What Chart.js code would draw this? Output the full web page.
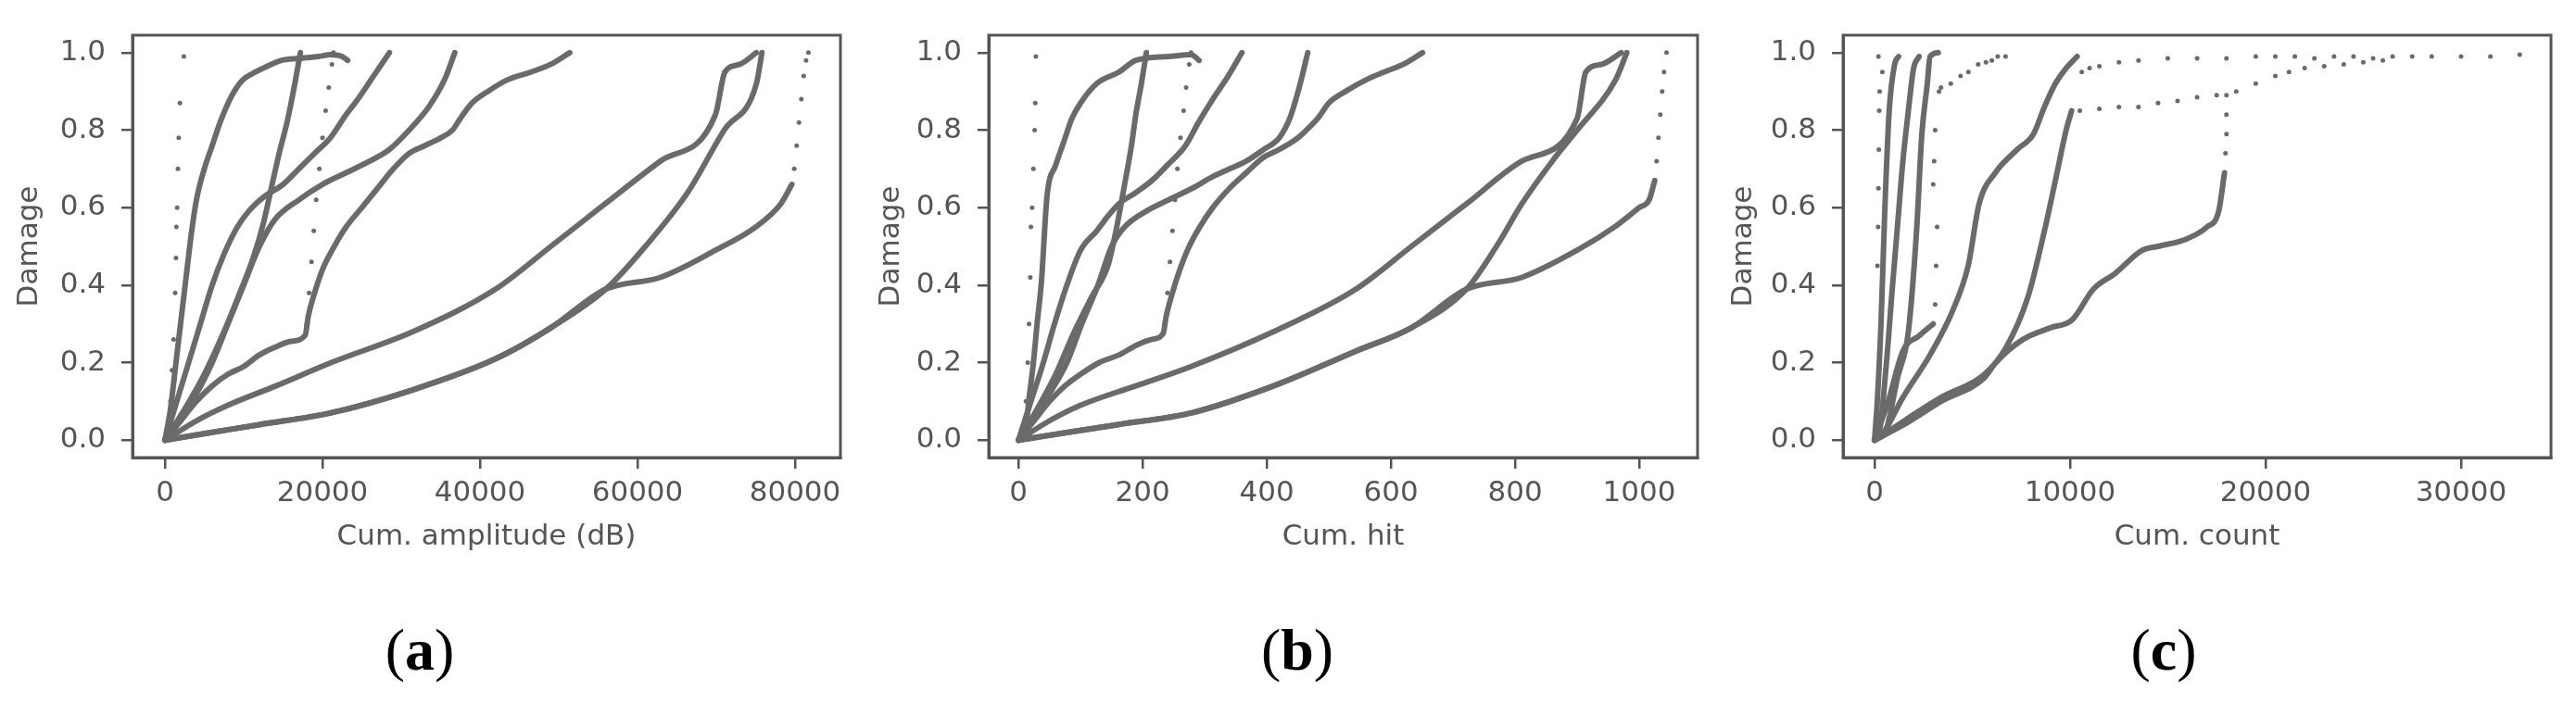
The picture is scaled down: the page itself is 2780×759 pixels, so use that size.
<!DOCTYPE html>
<html>
<head>
<meta charset="utf-8">
<script src="https://cdn.jsdelivr.net/npm/chart.js@4.4.1/dist/chart.umd.min.js"></script>
<style>
  body { margin: 0; background: #fff; width: 2780px; height: 759px; position: relative; overflow: hidden; }
  canvas { position: absolute; top: 0; }
  .tag { position: absolute; top: 702px; transform: translate(-50%, -50%); font-family: "Liberation Serif", serif; font-size: 64px; line-height: 1; color: #000; }
</style>
</head>
<body>
<canvas id="chartA" width="930" height="620" style="left:0px;width:930px;height:620px"></canvas>
<canvas id="chartB" width="920" height="620" style="left:930px;width:920px;height:620px"></canvas>
<canvas id="chartC" width="930" height="620" style="left:1850px;width:930px;height:620px"></canvas>
<div class="tag" style="left:453px">(<b>a</b>)</div>
<div class="tag" style="left:1400px">(<b>b</b>)</div>
<div class="tag" style="left:2335px">(<b>c</b>)</div>
<script>
// ================= DATA =================
// each curve is a list of [x, damage]
// ---- (a) cumulative amplitude ----
const a1dots = [[400,0.02],[700,0.1],[900,0.18],[1100,0.26],[1300,0.38],[1400,0.47],[1450,0.55],[1550,0.6],[1650,0.7],[1750,0.78],[1900,0.87],[2400,0.99]];
const a2 = [[0,0],[700,0.08],[1400,0.2],[2100,0.32],[2800,0.44],[3400,0.54],[4000,0.62],[5000,0.7],[6000,0.76],[7000,0.82],[7800,0.86],[8800,0.9],[9900,0.93],[11500,0.95],[13000,0.965],[14800,0.98],[17000,0.985],[19500,0.99],[21000,0.995],[22500,0.99],[23200,0.98]];
const a3 = [[0,0],[2500,0.08],[5000,0.17],[7500,0.28],[9500,0.38],[11200,0.47],[12500,0.56],[13500,0.65],[14500,0.74],[15500,0.82],[16400,0.91],[17200,1.0]];
const a4 = [[0,0],[2000,0.05],[4000,0.1],[6000,0.14],[8000,0.17],[10000,0.19],[12000,0.22],[14000,0.24],[16000,0.255],[17800,0.27],[18200,0.32],[19000,0.38],[20000,0.44],[21500,0.5],[23000,0.55],[25000,0.6],[27000,0.65],[29000,0.7],[31000,0.74],[33000,0.76],[35000,0.78],[36500,0.8],[37500,0.83],[39000,0.87],[41000,0.9],[43500,0.93],[46500,0.95],[49000,0.97],[51400,1.0]];
const a4dots = [[18000,0.3],[18300,0.38],[18600,0.46],[18900,0.54],[19200,0.62],[19600,0.7],[20000,0.78],[20400,0.85],[20800,0.91],[21200,0.97],[21400,1.0]];
const a5 = [[0,0],[1500,0.1],[3000,0.2],[4500,0.3],[6000,0.4],[7500,0.48],[9200,0.55],[10600,0.59],[12700,0.63],[15000,0.66],[17000,0.7],[19000,0.74],[21000,0.78],[23000,0.84],[24500,0.88],[26500,0.94],[28500,1.0]];
const a6 = [[0,0],[2000,0.06],[4000,0.12],[6000,0.2],[8000,0.3],[10000,0.4],[12000,0.5],[14000,0.57],[17000,0.62],[20000,0.66],[23000,0.69],[26000,0.72],[28500,0.75],[31000,0.8],[33500,0.86],[35500,0.93],[36800,1.0]];
const a7 = [[0,0],[4000,0.05],[8000,0.09],[14100,0.14],[21100,0.2],[31500,0.28],[42000,0.39],[49000,0.5],[55900,0.61],[62900,0.72],[69900,0.84],[71100,0.95],[73000,0.97],[75100,1.0]];
const a8 = [[0,0],[6000,0.02],[12000,0.04],[21000,0.07],[31500,0.13],[42000,0.21],[49000,0.29],[56000,0.39],[61000,0.5],[66400,0.64],[71000,0.8],[75100,0.92],[75800,1.0]];
const a9 = [[0,0],[6000,0.02],[12000,0.04],[21000,0.07],[31500,0.13],[42000,0.21],[49000,0.29],[56000,0.39],[62900,0.42],[69900,0.49],[75000,0.55],[78200,0.61],[79600,0.66]];
const a9dots = [[79900,0.7],[80200,0.76],[80500,0.82],[80800,0.88],[81100,0.94],[81400,0.98],[81700,1.0]];
const aTicks = [0, 20000, 40000, 60000, 80000];

// ---- (b) cumulative hit ----
const b1dots = [[8,0.02],[12,0.1],[15,0.2],[17,0.3],[19,0.42],[20,0.55],[22,0.6],[24,0.7],[26,0.8],[27,0.87],[28,0.99]];
const b2 = [[0,0],[11,0.03],[18,0.12],[24,0.2],[30,0.3],[37,0.41],[46,0.63],[60,0.71],[73,0.77],[86,0.83],[100,0.87],[126,0.92],[162,0.95],[189,0.98],[242,0.99],[278,0.995],[291,0.98]];
const b3 = [[0,0],[30,0.08],[60,0.17],[90,0.28],[118,0.37],[144,0.45],[157,0.54],[171,0.66],[182,0.76],[189,0.84],[198,0.92],[206,1.0]];
const b4 = [[0,0],[25,0.05],[50,0.1],[75,0.14],[100,0.17],[130,0.2],[162,0.22],[190,0.245],[215,0.26],[233,0.275],[238,0.32],[248,0.38],[260,0.44],[275,0.5],[292,0.55],[313,0.6],[340,0.65],[367,0.69],[395,0.73],[420,0.75],[450,0.78],[470,0.81],[482,0.83],[500,0.87],[527,0.9],[560,0.93],[589,0.95],[620,0.97],[651,1.0]];
const b4dots = [[235,0.3],[240,0.38],[244,0.46],[248,0.54],[252,0.62],[256,0.7],[261,0.78],[266,0.85],[270,0.91],[275,0.97],[278,1.0]];
const b5 = [[0,0],[20,0.1],[40,0.2],[58,0.3],[78,0.4],[100,0.49],[126,0.54],[145,0.58],[162,0.61],[190,0.64],[215,0.67],[240,0.71],[269,0.76],[290,0.82],[313,0.88],[338,0.94],[360,1.0]];
const b6 = [[0,0],[25,0.06],[50,0.12],[78,0.2],[102,0.3],[128,0.4],[150,0.5],[171,0.55],[205,0.59],[242,0.62],[280,0.65],[313,0.68],[340,0.7],[367,0.72],[395,0.75],[420,0.78],[437,0.83],[447,0.88],[457,0.94],[466,1.0]];
const b7 = [[0,0],[50,0.05],[100,0.09],[189,0.14],[278,0.19],[411,0.28],[544,0.39],[633,0.5],[722,0.61],[811,0.72],[900,0.83],[914,0.95],[940,0.97],[971,1.0]];
const b8 = [[0,0],[80,0.02],[160,0.04],[278,0.07],[411,0.14],[544,0.23],[633,0.29],[722,0.39],[770,0.5],[811,0.61],[860,0.72],[900,0.8],[962,0.93],[980,1.0]];
const b9 = [[0,0],[80,0.02],[160,0.04],[278,0.07],[411,0.14],[544,0.23],[633,0.29],[722,0.39],[811,0.42],[900,0.49],[960,0.55],[1000,0.6],[1016,0.62],[1025,0.67]];
const b9dots = [[1028,0.72],[1031,0.78],[1034,0.84],[1037,0.9],[1040,0.95],[1044,1.0]];
const bTicks = [0, 200, 400, 600, 800, 1000];

// ---- (c) cumulative count ----
const c1 = [[0,0],[140,0.1],[330,0.3],[530,0.6],[750,0.85],[1030,0.97],[1230,0.99]];
const c1dots = [[150,0.45],[180,0.55],[200,0.65],[220,0.75],[240,0.85],[260,0.9],[400,0.95],[200,0.99]];
const c2 = [[0,0],[200,0.01],[610,0.2],[890,0.38],[1170,0.55],[1450,0.72],[1730,0.85],[2000,0.96],[2280,0.99]];
const c3 = [[0,0],[610,0.03],[1170,0.16],[1730,0.28],[2150,0.54],[2420,0.79],[2700,0.92],[2840,0.99],[3260,1.0]];
const c4 = [[0,0],[700,0.1],[1450,0.23],[2300,0.27],[3000,0.3]];
const c4dots = [[3100,0.35],[3150,0.45],[3200,0.55],[3000,0.66],[3050,0.72],[3100,0.8],[3300,0.9],[3400,0.91],[3900,0.92],[4400,0.94],[4800,0.95],[5300,0.97],[5700,0.975],[6000,0.98],[6300,0.99],[6700,0.99]];
const c5 = [[0,0],[330,0.01],[1450,0.11],[2840,0.22],[3960,0.33],[4790,0.45],[5350,0.61],[6180,0.69],[7300,0.75],[8130,0.79],[8690,0.86],[9250,0.92],[9800,0.96],[10360,0.99]];
const c6 = [[0,0],[610,0.02],[3400,0.11],[5630,0.17],[6740,0.24],[7850,0.37],[8690,0.54],[9250,0.67],[9800,0.8],[10080,0.85]];
const c7 = [[0,0],[1500,0.04],[3400,0.1],[5600,0.16],[6200,0.2],[7600,0.26],[9000,0.29],[10100,0.31],[11200,0.39],[12300,0.43],[13700,0.49],[14500,0.5],[16000,0.52],[17000,0.55],[17600,0.59],[17900,0.69]];
const c7dots = [[17950,0.74],[18000,0.79],[18000,0.84],[18000,0.89]];
const cLowTrail = [[10500,0.85],[11500,0.855],[12500,0.86],[13500,0.86],[14500,0.87],[15500,0.875],[16500,0.885],[17500,0.89],[18500,0.9],[19500,0.92],[20500,0.94],[21200,0.95],[22000,0.96],[23000,0.965],[24000,0.97],[25000,0.975],[26000,0.98]];
const cTopTrail = [[10600,0.95],[11000,0.96],[11500,0.965],[12500,0.975],[13500,0.98],[15000,0.985],[16500,0.985],[18000,0.985],[19500,0.99],[20500,0.99],[21500,0.99],[22500,0.985],[23500,0.99],[24500,0.99],[25500,0.985],[26500,0.99],[27500,0.99],[28500,0.99],[30000,0.99],[31500,0.99],[33000,0.995]];
const cTicks = [0, 10000, 20000, 30000];

const yTicks = [0, 0.2, 0.4, 0.6, 0.8, 1.0];

// ================= STYLE =================
const ink = '#6a6a6a';
const axisInk = '#555555';
const font = { family: 'DejaVu Sans', size: 31 };

// frame round the plot area (top and right sides too)
const boxPlugin = {
  id: 'box',
  afterDraw(chart) {
    const { ctx, chartArea: c } = chart;
    ctx.save();
    ctx.strokeStyle = axisInk;
    ctx.lineWidth = 3;
    ctx.strokeRect(c.left, c.top, c.right - c.left, c.bottom - c.top);
    ctx.restore();
  }
};

function lineSet(pts) {
  return { data: pts.map(p => ({ x: p[0], y: p[1] })), showLine: true, borderColor: ink, borderWidth: 6,
    pointRadius: 0, cubicInterpolationMode: 'monotone', borderJoinStyle: 'round', borderCapStyle: 'round' };
}
function dotSet(pts) {
  return { data: pts.map(p => ({ x: p[0], y: p[1] })), showLine: false, pointRadius: 2.5, backgroundColor: ink, borderWidth: 0 };
}

// ------------------- BUILD ONE PANEL -------------------
function makePanel(id, lines, dots, xr, xTicks, xTitle, left, right) {
  const canvas = document.getElementById(id);
  new Chart(canvas, {
    type: 'scatter',
    data: { datasets: [...lines.map(lineSet), ...dots.map(dotSet)] },
    options: {
      responsive: false,
      animation: false,
      devicePixelRatio: 1,
      layout: { padding: { top: 38, right: canvas.width - right, left: 0, bottom: 0 } },
      plugins: { legend: { display: false }, tooltip: { enabled: false } },
      scales: {
        x: {
          type: 'linear', min: xr[0], max: xr[1],
          afterFit: s => { s.height = 126; },
          afterBuildTicks: s => { s.ticks = xTicks.map(v => ({ value: v })); },
          ticks: { maxRotation: 0, padding: 8, color: axisInk, font, callback: v => String(v) },
          grid: { drawOnChartArea: false, tickLength: 12, color: axisInk, lineWidth: 2.5 },
          border: { color: axisInk, width: 3 },
          title: { display: true, text: xTitle, color: axisInk, font, padding: { top: 0, bottom: 21 } }
        },
        y: {
          type: 'linear', min: -0.045, max: 1.045,
          afterFit: s => { s.width = left; },
          afterBuildTicks: s => { s.ticks = yTicks.map(v => ({ value: v })); },
          ticks: { padding: 17, color: axisInk, font, callback: v => v.toFixed(1) },
          grid: { drawOnChartArea: false, tickLength: 12, color: axisInk, lineWidth: 2.5 },
          border: { color: axisInk, width: 3 },
          title: { display: true, text: 'Damage', color: axisInk, font, padding: { top: 13, bottom: 0 } }
        }
      }
    },
    plugins: [boxPlugin]
  });
}

makePanel('chartA', [a2, a3, a4, a5, a6, a7, a8, a9], [a1dots, a4dots, a9dots],
  [-4118, 85765], aTicks, 'Cum. amplitude (dB)', 143, 907);
makePanel('chartB', [b2, b3, b4, b5, b6, b7, b8, b9], [b1dots, b4dots, b9dots],
  [-48, 1094], bTicks, 'Cum. hit', 137, 902);
makePanel('chartC', [c1, c2, c3, c4, c5, c6, c7], [c1dots, c4dots, c7dots, cLowTrail, cTopTrail],
  [-1611, 34600], cTicks, 'Cum. count', 139, 903);
</script>
</body>
</html>
